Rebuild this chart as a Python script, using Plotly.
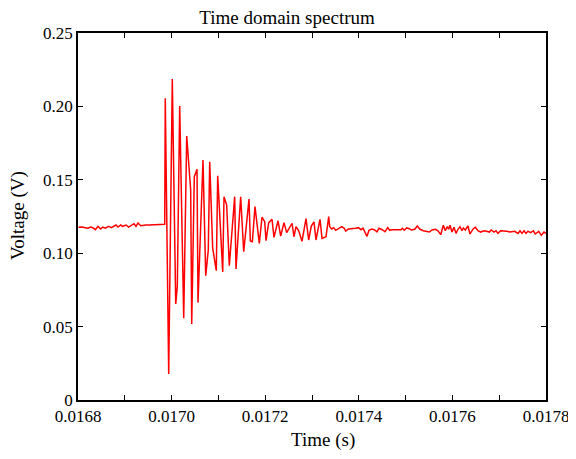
import plotly.graph_objects as go

time_s = [
    0.016801, 0.0168085, 0.0168156, 0.0168214, 0.0168271, 0.0168314, 0.016837, 0.0168427,
    0.0168485, 0.0168528, 0.0168583, 0.0168656, 0.0168712, 0.0168769, 0.0168812, 0.0168855,
    0.0168912, 0.0168955, 0.0169026, 0.0169083, 0.0169139, 0.0169197, 0.016924, 0.0169282,
    0.016934, 0.0169395, 0.0169453, 0.0169524, 0.0169596, 0.0169667, 0.0169737, 0.0169823,
    0.0169853,
    0.0169865, 0.0169938, 0.0170015, 0.0170088, 0.0170122, 0.0170173, 0.0170259, 0.0170323,
    0.0170408, 0.017043, 0.0170485, 0.0170543, 0.0170564, 0.0170671, 0.0170729, 0.0170784,
    0.0170814, 0.0170878, 0.0170955, 0.0170985, 0.0171092, 0.017112, 0.0171177, 0.0171233,
    0.0171348, 0.0171376, 0.0171476, 0.0171541, 0.0171654, 0.0171682, 0.0171725, 0.0171782,
    0.0171874, 0.0171932, 0.0171989, 0.0172017, 0.0172075, 0.0172145, 0.0172188, 0.0172274,
    0.0172331, 0.0172402, 0.0172459, 0.0172502, 0.0172573, 0.0172615, 0.0172658, 0.0172716,
    0.0172786, 0.0172872, 0.0172929, 0.0172985, 0.0173043, 0.0173085, 0.0173171, 0.0173214,
    0.0173299, 0.0173357,
    0.0173378, 0.0173421, 0.0173463, 0.0173506, 0.0173562, 0.0173635, 0.017369, 0.017372,
    0.0173778, 0.017385, 0.0173934, 0.0173991, 0.0174047, 0.017409, 0.0174133, 0.0174175,
    0.0174218, 0.0174276, 0.0174331, 0.0174389, 0.0174432, 0.0174502, 0.017456, 0.0174618,
    0.017466, 0.0174703, 0.0174774, 0.0174844, 0.0174902, 0.017493, 0.0174972,
    0.0175024, 0.017508, 0.0175122, 0.0175195, 0.017525, 0.0175308, 0.0175379, 0.0175451,
    0.0175507, 0.0175564, 0.0175635, 0.0175692, 0.017575, 0.0175806, 0.0175848, 0.0175891,
    0.0175921, 0.0175949, 0.0175991, 0.0176034, 0.0176077, 0.017612, 0.0176162, 0.0176205,
    0.0176233, 0.0176276, 0.0176333, 0.0176376,
    0.0176447, 0.017649, 0.0176547, 0.0176605, 0.0176675, 0.0176733, 0.0176788, 0.0176831,
    0.0176889, 0.0176932, 0.0176974, 0.0177032, 0.0177088, 0.017716, 0.0177231, 0.0177288,
    0.0177331, 0.0177402, 0.0177444, 0.0177487, 0.017753, 0.0177573, 0.0177615, 0.0177673,
    0.0177729, 0.0177771, 0.0177844, 0.01779, 0.0177957, 0.0178,
]

voltage_v = [
    0.1176, 0.1178, 0.1174, 0.1170, 0.1178, 0.1174, 0.1160, 0.1183,
    0.1165, 0.1178, 0.1170, 0.1183, 0.1174, 0.1183, 0.1192, 0.1178,
    0.1192, 0.1183, 0.1192, 0.1178, 0.1187, 0.1201, 0.1183, 0.1206,
    0.1187, 0.1192, 0.1192, 0.1192, 0.1192, 0.1192, 0.1192, 0.1192,
    0.1197,
    0.2055, 0.0177, 0.2187, 0.0654, 0.0772, 0.2003, 0.0557, 0.1798,
    0.1431, 0.0518, 0.1521, 0.1572, 0.0663, 0.1635, 0.0847, 0.1022,
    0.1623, 0.1035, 0.0881, 0.1528, 0.0872, 0.1385, 0.1328, 0.0915,
    0.1385, 0.0892, 0.1385, 0.1010, 0.1369, 0.1083, 0.1078, 0.1317,
    0.1067, 0.1245, 0.1215, 0.1085, 0.1208, 0.1231, 0.1108, 0.1221,
    0.1117, 0.1208, 0.1140, 0.1163, 0.1204, 0.1112, 0.1181, 0.1153,
    0.1081, 0.1235, 0.1090, 0.1185, 0.1213, 0.1090, 0.1231, 0.1101,
    0.1112, 0.1249,
    0.1181, 0.1165, 0.1174, 0.1156, 0.1165, 0.1181, 0.1170, 0.1151,
    0.1165, 0.1165, 0.1170, 0.1174, 0.1160, 0.1170, 0.1142, 0.1115,
    0.1156, 0.1165, 0.1160, 0.1146, 0.1170, 0.1160, 0.1146, 0.1174,
    0.1156, 0.1160, 0.1160, 0.1160, 0.1160, 0.1170, 0.1156,
    0.1172, 0.1167, 0.1158, 0.1163, 0.1185, 0.1163, 0.1153, 0.1149,
    0.1144, 0.1158, 0.1163, 0.1153, 0.1126, 0.1190, 0.1153, 0.1181,
    0.1163, 0.1190, 0.1144, 0.1176, 0.1135, 0.1163, 0.1181, 0.1153,
    0.1172, 0.1158, 0.1185, 0.1131,
    0.1167, 0.1176, 0.1153, 0.1144, 0.1153, 0.1149, 0.1144, 0.1158,
    0.1144, 0.1153, 0.1135, 0.1153, 0.1149, 0.1149, 0.1144, 0.1144,
    0.1149, 0.1135, 0.1153, 0.1135, 0.1153, 0.1135, 0.1149, 0.1140,
    0.1153, 0.1131, 0.1149, 0.1122, 0.1144, 0.1135,
]

x_tickvals = [0.0168, 0.0169, 0.0170, 0.0171, 0.0172, 0.0173, 0.0174, 0.0175, 0.0176, 0.0177, 0.0178]
x_ticktext = ["0.0168", "", "0.0170", "", "0.0172", "", "0.0174", "", "0.0176", "", "0.0178"]
y_tickvals = [0, 0.05, 0.10, 0.15, 0.20, 0.25]
y_ticktext = ["0", "0.05", "0.10", "0.15", "0.20", "0.25"]

FONT = "Liberation Serif, Times New Roman, serif"
OFF = 8  # page body margin
W, H = 568, 451
L, R, T, B = 70, 30, 25, 59
pw = W - L - R
ph = H - T - B
PX0 = OFF + L          # page x of plot left
PY1 = OFF + H - B      # page y of plot bottom

fig = go.Figure()
fig.add_trace(go.Scatter(
    x=time_s, y=voltage_v, mode="lines",
    line=dict(color="#ff0000", width=1.5),
    showlegend=False,
))

axis_common = dict(
    showline=True, linecolor="black", linewidth=1.5, mirror="allticks",
    ticks="inside", ticklen=5, tickcolor="black", tickwidth=1,
    showgrid=False, zeroline=False, automargin=False,
    tickfont=dict(family=FONT, size=17, color="black"),
)

fig.update_layout(
    width=W, height=H,
    margin=dict(l=L, r=R, t=T, b=B),
    paper_bgcolor="white", plot_bgcolor="white",
    title=dict(text="Time domain spectrum", x=(287 - OFF) / W, xanchor="center",
               y=1 - (17 - OFF) / H, yanchor="middle",
               font=dict(family=FONT, size=19, color="black")),
    xaxis=dict(range=[0.0168, 0.0178], tickmode="array", tickvals=x_tickvals, ticktext=x_ticktext,
               **axis_common),
    yaxis=dict(range=[0, 0.25], tickmode="array", tickvals=y_tickvals, ticktext=y_ticktext,
               **axis_common),
    font=dict(family=FONT, color="black"),
    annotations=[
        dict(text="Time (s)", xref="paper", yref="paper",
             x=(323 - PX0) / pw, y=-(440 - PY1) / ph,
             xanchor="center", yanchor="middle", showarrow=False,
             font=dict(family=FONT, size=19, color="black")),
        dict(text="Voltage (V)", xref="paper", yref="paper",
             x=(18 - PX0) / pw, y=(PY1 - 216) / ph, textangle=-90,
             xanchor="center", yanchor="middle", showarrow=False,
             font=dict(family=FONT, size=19, color="black")),
    ],
)

fig.write_html("out.html")
